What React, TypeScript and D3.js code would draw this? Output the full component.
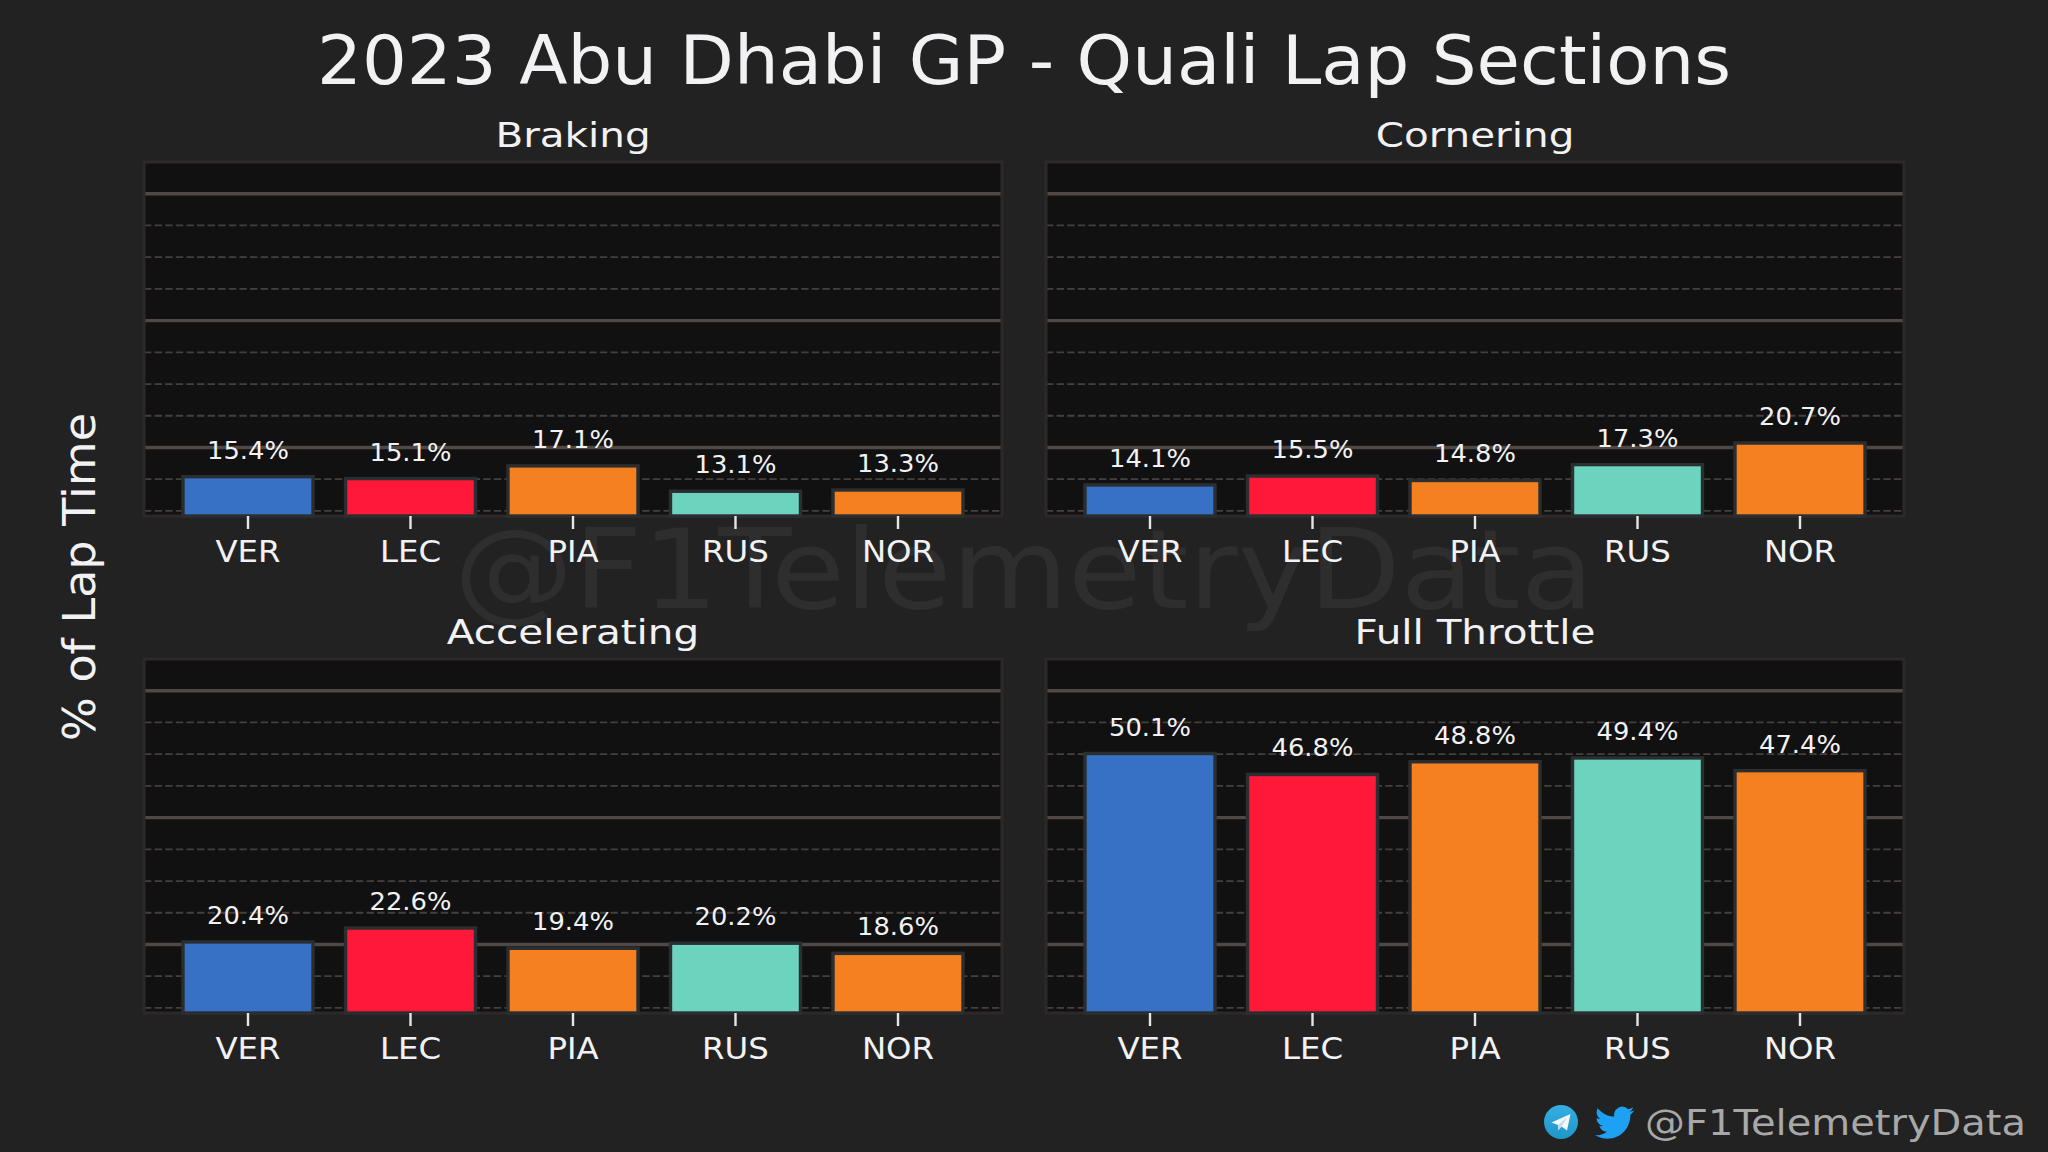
import { useEffect, useRef } from 'react'
import * as d3 from 'd3'

const drivers = ['VER', 'LEC', 'PIA', 'RUS', 'NOR']
const driverColors = ['#3671C6', '#FF1837', '#F58020', '#6CD3BF', '#F58020']

const braking = [15.4, 15.1, 17.1, 13.1, 13.3]
const cornering = [14.1, 15.5, 14.8, 17.3, 20.7]
const accelerating = [20.4, 22.6, 19.4, 20.2, 18.6]
const fullThrottle = [50.1, 46.8, 48.8, 49.4, 47.4]

const majorTicks = [20, 40, 60]
const minorTicks = [10, 15, 25, 30, 35, 45, 50, 55]
const yDomain: [number, number] = [9.2, 65]

const panels = [
  { title: 'Braking', values: braking, col: 0, row: 0 },
  { title: 'Cornering', values: cornering, col: 1, row: 0 },
  { title: 'Accelerating', values: accelerating, col: 0, row: 1 },
  { title: 'Full Throttle', values: fullThrottle, col: 1, row: 1 },
]

const WIDTH = 2048
const HEIGHT = 1152
const FONT = '"DejaVu Sans", sans-serif'

// the source font is wider than anything installed, so stretch text to fit
function stretch(sel: any, factor: number) {
  sel.each(function (this: SVGTextElement) {
    const len = this.getComputedTextLength()
    d3.select(this)
      .attr('textLength', len * factor)
      .attr('lengthAdjust', 'spacingAndGlyphs')
  })
}

function fitTo(sel: any, width: number) {
  sel.attr('textLength', width).attr('lengthAdjust', 'spacingAndGlyphs')
}

export default function App() {
  const svgRef = useRef<SVGSVGElement>(null)

  useEffect(() => {
    if (!svgRef.current) return
    const svg = d3.select(svgRef.current)
    svg.selectAll('*').remove()

    svg.append('rect').attr('width', WIDTH).attr('height', HEIGHT).attr('fill', '#222222')

    // Watermark
    svg.append('text')
      .attr('x', 1024).attr('y', 608)
      .attr('text-anchor', 'middle')
      .style('font-family', FONT).style('font-size', '110px')
      .attr('fill', '#2e2e2e')
      .text('@F1TelemetryData')
      .call(fitTo, 1140)

    // Title
    svg.append('text')
      .attr('x', 1024).attr('y', 84)
      .attr('text-anchor', 'middle')
      .style('font-family', FONT).style('font-size', '67px')
      .attr('fill', '#f2f2f4')
      .text('2023 Abu Dhabi GP - Quali Lap Sections')
      .call(fitTo, 1414)

    // Y label
    svg.append('text')
      .attr('transform', 'translate(95,577) rotate(-90)')
      .attr('text-anchor', 'middle')
      .style('font-family', FONT).style('font-size', '44px')
      .attr('fill', '#f2f2f4')
      .text('% of Lap Time')
      .call(fitTo, 328)

    const colX = [144, 1046]
    const rowY = [162, 659]
    const panelW = 858
    const panelH = 354

    const x = d3.scaleBand<string>()
      .domain(drivers)
      .range([0, panelW])
      .paddingInner(0.2)
      .paddingOuter(0.24)

    const y = d3.scaleLinear().domain(yDomain).range([panelH, 0])

    panels.forEach(p => {
      const g = svg.append('g')
        .attr('transform', `translate(${colX[p.col]},${rowY[p.row]})`)

      g.append('rect')
        .attr('width', panelW).attr('height', panelH)
        .attr('fill', '#111111')

      // Grid
      g.selectAll('.minor').data(minorTicks).enter().append('line')
        .attr('x1', 0).attr('x2', panelW)
        .attr('y1', d => y(d)).attr('y2', d => y(d))
        .attr('stroke', '#45403c').attr('stroke-width', 1.8)
        .attr('stroke-dasharray', '7.4,3.2')

      g.selectAll('.major').data(majorTicks).enter().append('line')
        .attr('x1', 0).attr('x2', panelW)
        .attr('y1', d => y(d)).attr('y2', d => y(d))
        .attr('stroke', '#4f4844').attr('stroke-width', 3.4)

      // Spines
      g.append('rect')
        .attr('width', panelW).attr('height', panelH)
        .attr('fill', 'none')
        .attr('stroke', '#2d2928').attr('stroke-width', 3)

      // Bars
      g.selectAll('.bar').data(p.values).enter().append('rect')
        .attr('x', (d, i) => x(drivers[i]) || 0)
        .attr('width', x.bandwidth())
        .attr('y', d => y(d))
        .attr('height', d => panelH - y(d))
        .attr('fill', (d, i) => driverColors[i])
        .attr('stroke', '#2b2e31').attr('stroke-width', 3.4)

      // Value labels
      g.selectAll('.value').data(p.values).enter().append('text')
        .attr('x', (d, i) => (x(drivers[i]) || 0) + x.bandwidth() / 2)
        .attr('y', d => y(d) - 18)
        .attr('text-anchor', 'middle')
        .style('font-family', FONT).style('font-size', '25px')
        .attr('fill', '#f2f2f4')
        .text(d => `${d.toFixed(1)}%`)
        .call(stretch, 1.03)

      // X axis
      const axis = g.append('g')
        .attr('transform', `translate(0,${panelH})`)
        .call(d3.axisBottom(x).tickSize(13).tickPadding(12))
      axis.select('.domain').remove()
      axis.selectAll('line').attr('stroke', '#e6e6e6').attr('stroke-width', 2.4)
      axis.selectAll('text')
        .style('font-family', FONT).style('font-size', '30px')
        .attr('fill', '#f2f2f4')
        .call(stretch, 1.08)

      // Panel title
      g.append('text')
        .attr('x', panelW / 2).attr('y', -15.5)
        .attr('text-anchor', 'middle')
        .style('font-family', FONT).style('font-size', '34px')
        .attr('fill', '#f2f2f4')
        .text(p.title)
        .call(stretch, 1.19)
    })

    // Footer
    const defs = svg.append('defs')
    const grad = defs.append('linearGradient')
      .attr('id', 'tg').attr('x1', 0).attr('x2', 0).attr('y1', 0).attr('y2', 1)
    grad.append('stop').attr('offset', '0%').attr('stop-color', '#37AEE2')
    grad.append('stop').attr('offset', '100%').attr('stop-color', '#1E96C8')

    const tg = svg.append('g').attr('transform', 'translate(1561,1122)')
    tg.append('circle').attr('r', 17).attr('fill', 'url(#tg)')
    tg.append('path')
      .attr('d', 'M-9.5,0.5 L9.5,-8 L6,8.5 L0.5,4.5 L-2.5,8 L-3,3 L-9.5,0.5 Z')
      .attr('fill', '#f4f9fc')
    tg.append('path')
      .attr('d', 'M-3,3 L6.5,-5 L0.5,4.5 L-2.5,8 Z')
      .attr('fill', '#c8daea')

    svg.append('path')
      .attr('transform', 'translate(1595,1103) scale(1.64)')
      .attr('d', 'M23.953 4.57a10 10 0 01-2.825.775 4.958 4.958 0 002.163-2.723c-.951.555-2.005.959-3.127 1.184a4.92 4.92 0 00-8.384 4.482C7.69 8.095 4.067 6.13 1.64 3.162a4.822 4.822 0 00-.666 2.475c0 1.71.87 3.213 2.188 4.096a4.904 4.904 0 01-2.228-.616v.06a4.923 4.923 0 003.946 4.827 4.996 4.996 0 01-2.212.085 4.936 4.936 0 004.604 3.417 9.867 9.867 0 01-6.102 2.105c-.39 0-.779-.023-1.17-.067a13.995 13.995 0 007.557 2.209c9.053 0 13.998-7.496 13.998-13.985 0-.21 0-.42-.015-.63A9.935 9.935 0 0024 4.59z')
      .attr('fill', '#1DA1F2')

    svg.append('text')
      .attr('x', 1645).attr('y', 1135)
      .style('font-family', FONT).style('font-size', '36px')
      .attr('fill', '#a8a8a8')
      .text('@F1TelemetryData')
      .call(fitTo, 381)
  }, [])

  return (
    <svg
      ref={svgRef}
      width={WIDTH}
      height={HEIGHT}
      style={{ position: 'absolute', left: 0, top: 0, display: 'block' }}
    />
  )
}
